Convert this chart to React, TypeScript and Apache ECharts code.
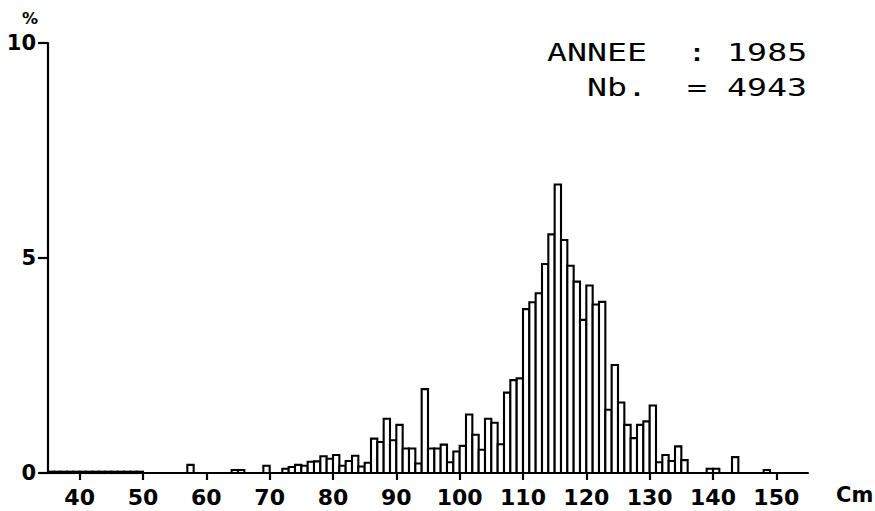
import React, { useEffect, useRef } from "react";
import * as echarts from "echarts";

// Length classes (lower bound of each 1 cm class) that hold fish, and their share in %
const lengthCm = [
  35, 36, 37, 38, 39, 40, 41, 42, 43, 44, 45, 46, 47, 48, 49,
  57, 64, 65, 69,
  72, 73, 74, 75, 76, 77, 78, 79, 80, 81, 82, 83, 84, 85,
  86, 87, 88, 89, 90, 91, 92, 93, 94, 95, 96, 97, 98, 99, 100,
  101, 102, 103, 104, 105, 106, 107, 108, 109,
  110, 111, 112, 113, 114, 115, 116, 117, 118, 119, 120, 121, 122,
  123, 124, 125, 126, 127, 128, 129, 130, 131, 132, 133, 134, 135,
  139, 140, 143, 148,
];
const percent = [
  0.03, 0.03, 0.03, 0.03, 0.03, 0.03, 0.03, 0.03, 0.03, 0.03, 0.03, 0.03, 0.03, 0.03, 0.03,
  0.19, 0.07, 0.07, 0.17,
  0.1, 0.14, 0.19, 0.17, 0.26, 0.27, 0.39, 0.33, 0.42, 0.17, 0.28, 0.4, 0.15, 0.24,
  0.8, 0.72, 1.26, 0.76, 1.12, 0.57, 0.57, 0.22, 1.95, 0.57, 0.57, 0.66, 0.25, 0.5, 0.63,
  1.36, 0.89, 0.54, 1.26, 1.17, 0.67, 1.87, 2.16, 2.2,
  3.81, 3.97, 4.18, 4.86, 5.55, 6.71, 5.42, 4.82, 4.45, 3.56, 4.36, 3.92, 3.98,
  1.47, 2.51, 1.64, 1.12, 0.81, 1.12, 1.2, 1.57, 0.25, 0.42, 0.28, 0.62, 0.3,
  0.1, 0.1, 0.37, 0.07,
];
const classWidthCm = 1;

const xTickValues = [40, 50, 60, 70, 80, 90, 100, 110, 120, 130, 140, 150];
const yTickValues = [0, 5, 10];

const yearLine = "ANNEE  : 1985";
const countLine = "Nb.  = 4943";
const xUnit = "Cm";
const yUnit = "%";

const plotterFont = "DejaVu Sans";

export default function App() {
  const ref = useRef<HTMLDivElement>(null);

  useEffect(() => {
    if (!ref.current) return;
    const chart = echarts.init(ref.current, undefined, { renderer: "svg" });

    const bins = lengthCm.map((c, i) => [c, c + classWidthCm, percent[i]]);

    chart.setOption({
      animation: false,
      backgroundColor: "#ffffff",
      grid: { left: 48, right: 67, top: 43, bottom: 38, containLabel: false },
      xAxis: {
        type: "value",
        min: 35,
        max: 155,
        splitLine: { show: false },
        axisLine: { show: true, onZero: false, lineStyle: { color: "#000", width: 2.2 } },
        axisTick: {
          show: true,
          customValues: xTickValues,
          length: 7,
          lineStyle: { color: "#000", width: 2.2 },
        },
        axisLabel: {
          customValues: xTickValues,
          margin: 13,
          color: "#000",
          fontFamily: plotterFont,
          fontWeight: "bold",
          fontSize: 22,
        },
      },
      yAxis: {
        type: "value",
        min: 0,
        max: 10,
        splitLine: { show: false },
        axisLine: { show: true, lineStyle: { color: "#000", width: 2.2 } },
        axisTick: {
          show: true,
          customValues: yTickValues,
          length: 10,
          lineStyle: { color: "#000", width: 2.2 },
        },
        axisLabel: {
          customValues: yTickValues,
          margin: 12,
          color: "#000",
          fontFamily: plotterFont,
          fontWeight: "bold",
          fontSize: 21,
        },
      },
      series: [
        {
          type: "custom",
          data: bins,
          encode: { x: [0, 1], y: 2 },
          renderItem: (_params: any, api: any) => {
            const from = api.value(0);
            const to = api.value(1);
            const v = api.value(2);
            const base = api.coord([from, 0]);
            const top = api.coord([to, v]);
            return {
              type: "rect",
              shape: {
                x: base[0],
                y: top[1],
                width: top[0] - base[0],
                height: base[1] - top[1],
              },
              style: { fill: "#ffffff", stroke: "#000000", lineWidth: 2.1 },
            };
          },
        },
      ],
      graphic: [
        {
          type: "text",
          x: 22,
          y: 18,
          style: {
            text: yUnit,
            fill: "#000",
            font: `bold 16px ${plotterFont}`,
            textAlign: "left",
            align: "left",
            textVerticalAlign: "middle",
            verticalAlign: "middle",
          },
        },
        {
          type: "text",
          x: 836,
          y: 495,
          style: {
            text: xUnit,
            fill: "#000",
            font: `bold 21px ${plotterFont}`,
            textAlign: "left",
            align: "left",
            textVerticalAlign: "middle",
            verticalAlign: "middle",
          },
        },
        {
          type: "text",
          x: 547,
          y: 53,
          scaleX: 1.33,
          style: {
            text: yearLine,
            fill: "#000",
            font: `25px "DejaVu Sans Mono"`,
            textAlign: "left",
            align: "left",
            textVerticalAlign: "middle",
            verticalAlign: "middle",
          },
        },
        {
          type: "text",
          x: 587,
          y: 88,
          scaleX: 1.33,
          style: {
            text: countLine,
            fill: "#000",
            font: `25px "DejaVu Sans Mono"`,
            textAlign: "left",
            align: "left",
            textVerticalAlign: "middle",
            verticalAlign: "middle",
          },
        },
      ],
    });

    return () => chart.dispose();
  }, []);

  return (
    <div
      ref={ref}
      style={{
        position: "fixed",
        left: 0,
        top: 0,
        width: 875,
        height: 511,
        background: "#ffffff",
      }}
    />
  );
}
